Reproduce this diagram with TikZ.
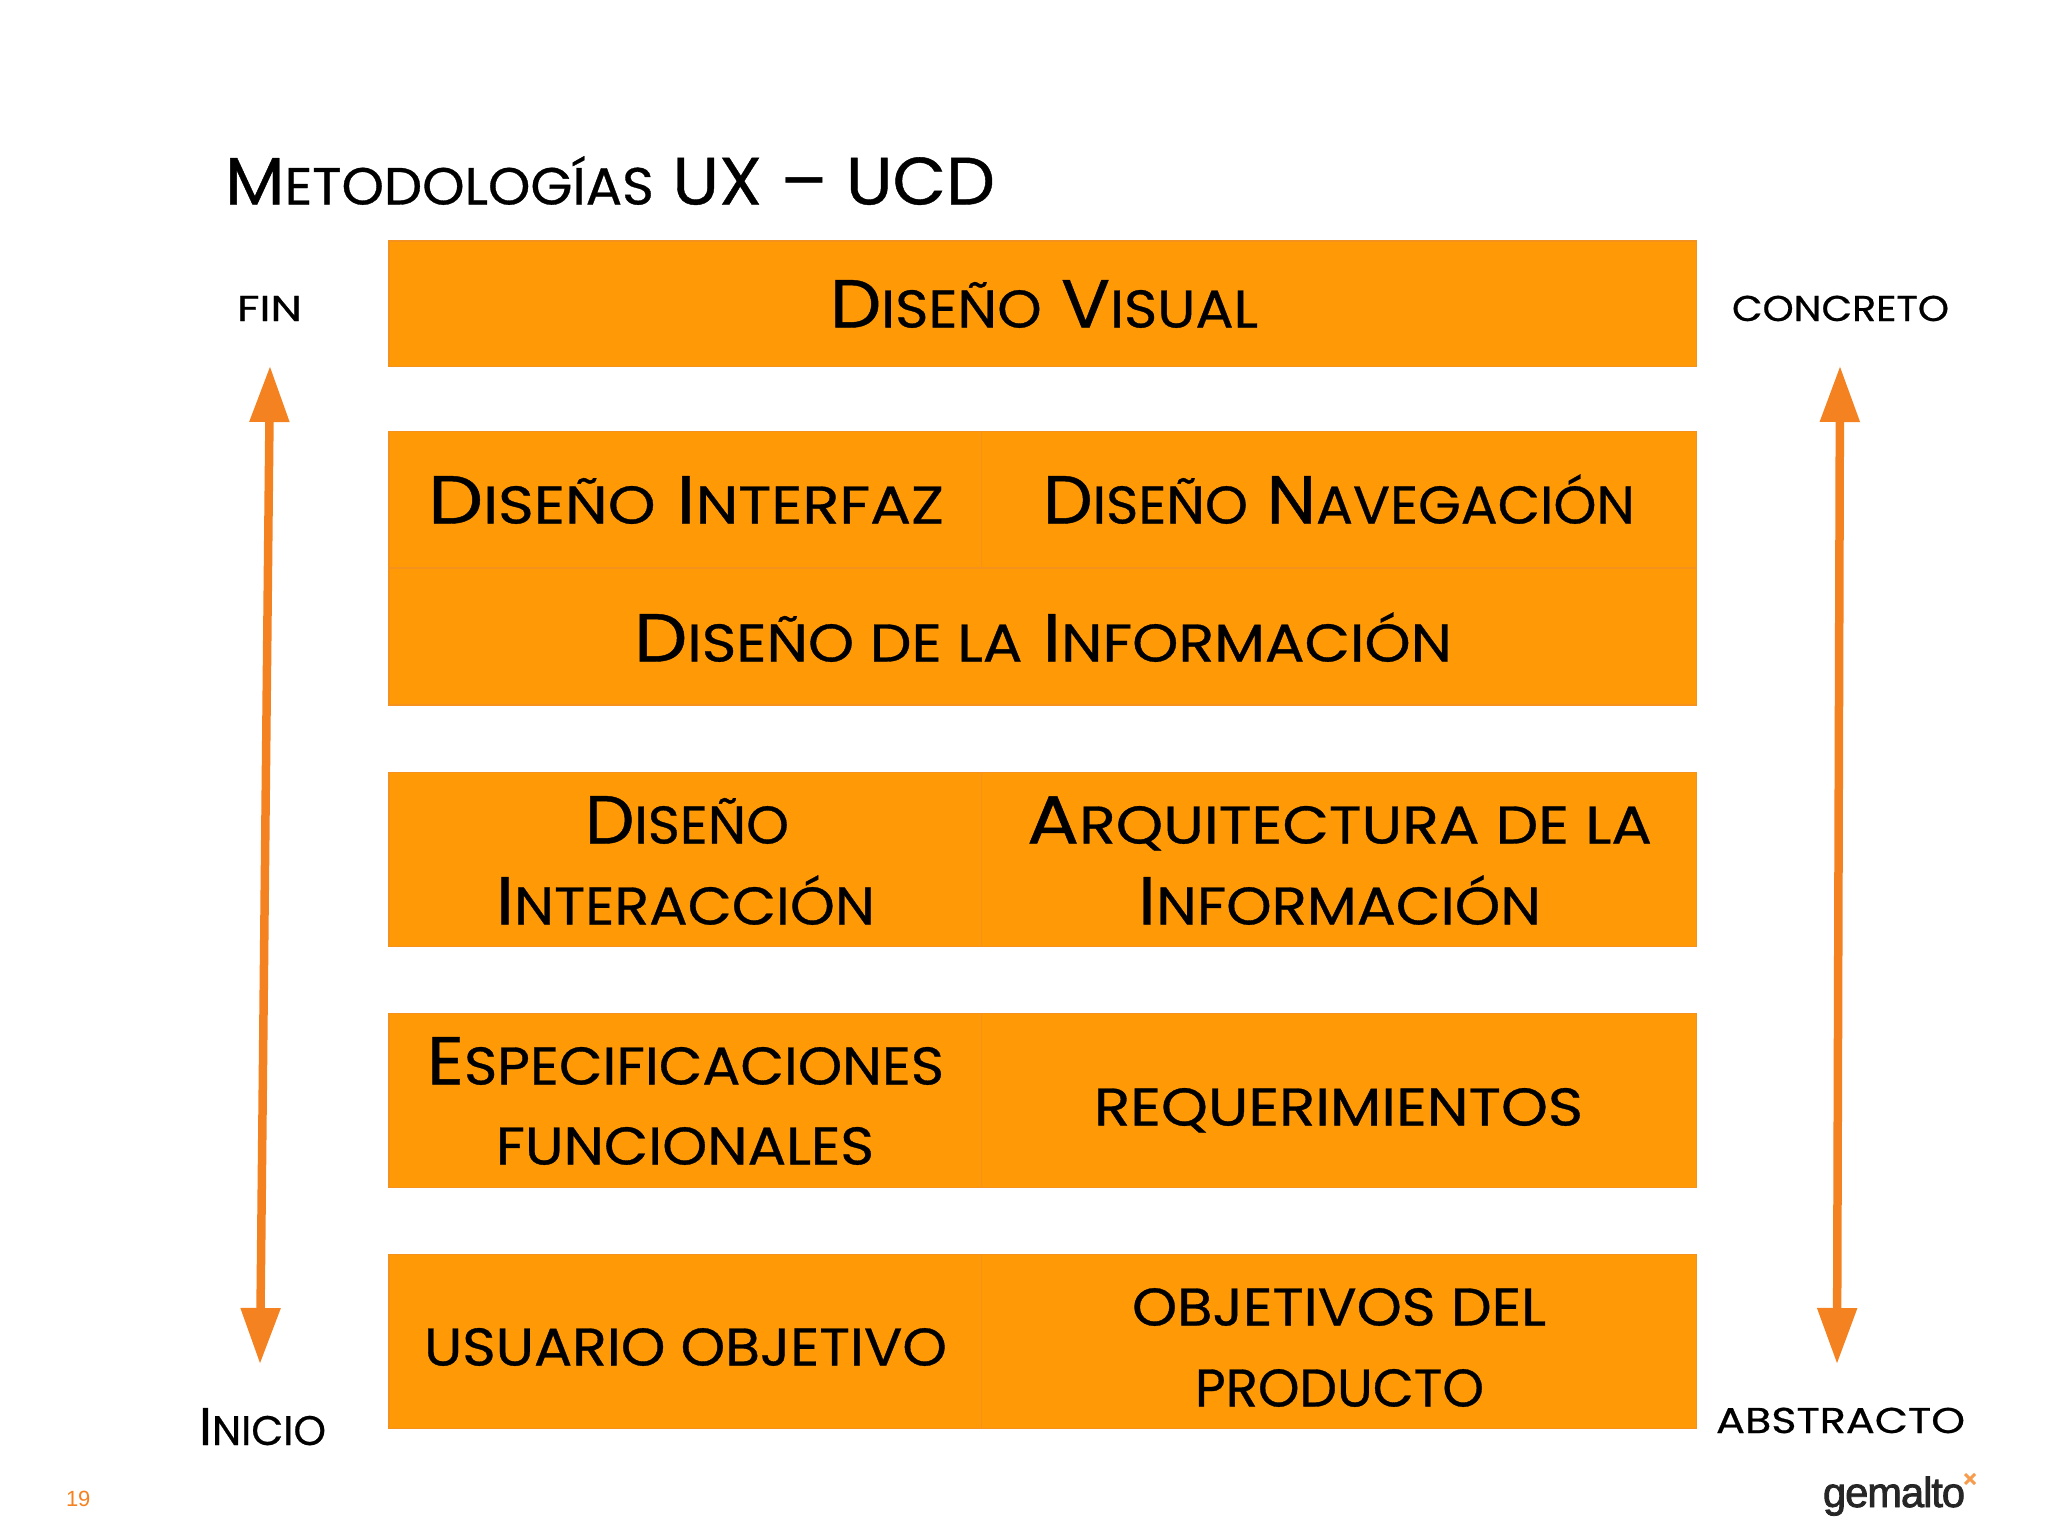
\documentclass[tikz,border=0pt]{standalone}
\usepackage{graphicx}
\usepackage{fontspec}
\setmainfont{Liberation Sans}
\newfontfamily\hand{Poppins}[FakeBold=0.6]
\newfontfamily\logofont{Liberation Sans}[FakeBold=2,LetterSpace=-2.5]
\usetikzlibrary{arrows.meta}
\definecolor{boxfill}{HTML}{FF9A06}
\definecolor{boxline}{HTML}{F5921E}
\definecolor{arrowc}{HTML}{F58220}
\newlength\szz
\newcommand\fitw[3]{\resizebox{#1pt}{\height}{\szz=#2pt\hand\fontsize{\szz}{\szz}\selectfont #3}}
\newcommand\sm[1]{{\fontsize{0.78\szz}{\szz}\selectfont\MakeUppercase{#1}}}
\tikzset{
  x=1pt,y=-1pt,
  cell/.style={draw=boxline,line width=1.2pt,fill=boxfill,inner sep=0pt,minimum width=0pt,minimum height=0pt},
  lab/.style={inner sep=0pt,outer sep=0pt,anchor=base west,text=black,yshift=1.5pt},
  side/.style={lab,yshift=-1.5pt},
  bigarrow/.style={arrowc,line width=8.5pt,{Triangle[length=56pt,width=38pt]}-{Triangle[length=56pt,width=38pt]}}
}
\newcommand\cellbox[5]{\path[cell] (#2,#3) rectangle (#4,#5) node[midway,inner sep=0pt] (#1) {};}
\begin{document}
\begin{tikzpicture}
\useasboundingbox (0,0) rectangle (2048,1536);
% boxes
\cellbox{visual}{389}{241}{1696.5}{366.5}
\cellbox{interfaz}{389}{431.5}{981.5}{568}
\cellbox{navegacion}{981.5}{431.5}{1696.5}{568}
\cellbox{informacion}{389}{568}{1696.5}{705}
\cellbox{interaccion}{389}{772.5}{981.5}{946.5}
\cellbox{arquitectura}{981.5}{772.5}{1696.5}{946.5}
\cellbox{especificaciones}{389}{1013.5}{981.5}{1187.5}
\cellbox{requerimientos}{981.5}{1013.5}{1696.5}{1187.5}
\cellbox{usuario}{389}{1254.5}{981.5}{1428.5}
\cellbox{objetivos}{981.5}{1254.5}{1696.5}{1428.5}
% title
\node[lab,yshift=1pt] (title) at (225,207) {\fitw{770}{67}{M\sm{etodologías} UX – UCD}};
% box texts
\node[lab] (t1) at (830,329) {\fitw{428}{68}{D\sm{iseño} V\sm{isual}}};
\node[lab] (t2) at (428,525) {\fitw{516}{68}{D\sm{iseño} I\sm{nterfaz}}};
\node[lab] (t3) at (1043,525) {\fitw{592}{68}{D\sm{iseño} N\sm{avegación}}};
\node[lab] (t4) at (634,663) {\fitw{818}{68}{D\sm{iseño de la} I\sm{nformación}}};
\node[lab] (t5) at (585,845) {\fitw{204}{68}{D\sm{iseño}}};
\node[lab] (t6) at (496,926) {\fitw{379}{68}{I\sm{nteracción}}};
\node[lab] (t7) at (1027,845) {\fitw{625}{68}{A\sm{rquitectura de la}}};
\node[lab] (t8) at (1138,926) {\fitw{403}{68}{I\sm{nformación}}};
\node[lab] (t9) at (427,1086) {\fitw{517}{68}{E\sm{specificaciones}}};
\node[lab] (t10) at (496,1166) {\fitw{378}{68}{\sm{funcionales}}};
\node[lab] (t11) at (1094,1127) {\fitw{489}{68}{\sm{requerimientos}}};
\node[lab] (t12) at (424,1367) {\fitw{523}{68}{\sm{usuario objetivo}}};
\node[lab] (t13) at (1132,1327) {\fitw{414}{68}{\sm{objetivos del}}};
\node[lab] (t14) at (1195,1408) {\fitw{289}{68}{\sm{producto}}};
% side labels
\node[lab,yshift=-1.5pt] (fin) at (237,321) {\fitw{65}{46}{\sm{fin}}};
\node[lab,yshift=-1.5pt] (concreto) at (1732,321) {\fitw{217}{46}{\sm{concreto}}};
\node[lab,yshift=-1.5pt] (inicio) at (199,1445) {\fitw{127}{53}{I\sm{nicio}}};
\node[lab,yshift=-1.5pt] (abstracto) at (1716,1433) {\fitw{249}{46}{\sm{abstracto}}};
% arrows
\coordinate (lt) at (270,366);
\coordinate (lb) at (260,1364);
\coordinate (rt) at (1840,366);
\coordinate (rb) at (1837,1364);
\draw[bigarrow] (lt) -- (lb);
\draw[bigarrow] (rt) -- (rb);
% footer
\node[lab,text=arrowc,yshift=-1.5pt] (page) at (66,1506) {\fontsize{22}{22}\selectfont 19};
\node[lab,text=black!85,yshift=-1.5pt] (logo) at (1823,1507) {\resizebox{142pt}{\height}{\logofont\fontsize{42}{42}\selectfont gemalto}};
\draw[arrowc,line width=3pt,opacity=.8] (1965,1474) -- (1975,1484) (1975,1474) -- (1965,1484);
\end{tikzpicture}
\end{document}
